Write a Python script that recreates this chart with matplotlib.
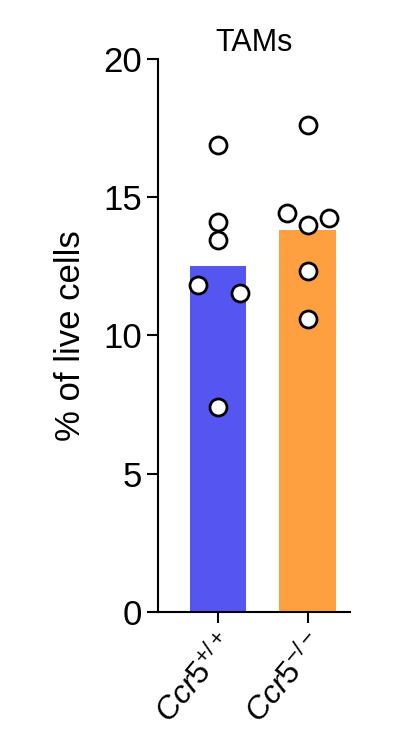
import matplotlib
matplotlib.use("Agg")
import matplotlib.pyplot as plt

groups = [r'$\mathit{Ccr5}^{+/+}$', r'$\mathit{Ccr5}^{-/-}$']
means = [12.5, 13.8]
pts_wt = [16.9, 14.1, 13.45, 11.83, 11.54, 7.41]
pts_ko = [17.6, 14.43, 14.0, 14.25, 12.33, 10.6]
offs_wt = [0, 0, 0, -0.22, 0.24, 0]
offs_ko = [0, -0.23, 0, 0.24, 0, 0]
colors = ['#5555F2', '#FFA040']

plt.rcParams['font.family'] = ['Liberation Sans', 'DejaVu Sans']
plt.rcParams['mathtext.fontset'] = 'custom'
plt.rcParams['mathtext.it'] = 'Liberation Sans:italic'
plt.rcParams['mathtext.rm'] = 'Liberation Sans'

fig = plt.figure(figsize=(4.14, 7.48), dpi=100)
ax = fig.add_axes([0.382, 0.182, 0.463, 0.739])
ax.bar([0, 1], means, width=0.63, color=colors)
for i, (pts, offs) in enumerate([(pts_wt, offs_wt), (pts_ko, offs_ko)]):
    ax.scatter([i + o for o in offs], pts, s=150, facecolors='white',
               edgecolors='black', linewidths=2, zorder=3)
ax.set_xlim(-0.667, 1.47)
ax.set_ylim(0, 20)
ax.set_yticks([0, 5, 10, 15, 20])
ax.set_xticks([0, 1])
ax.set_xticklabels(groups, rotation=50, ha='right', rotation_mode='anchor', fontsize=23)
ax.tick_params(axis='y', labelsize=25, width=1.5, length=8)
ax.tick_params(axis='x', width=1.5, length=8)
for s in ['top', 'right']:
    ax.spines[s].set_visible(False)
for s in ['left', 'bottom']:
    ax.spines[s].set_linewidth(1.5)
ax.set_ylabel('% of live cells', fontsize=25, labelpad=12)
ax.set_title('TAMs', fontsize=22, pad=6)
fig.savefig('out.png', dpi=100)
